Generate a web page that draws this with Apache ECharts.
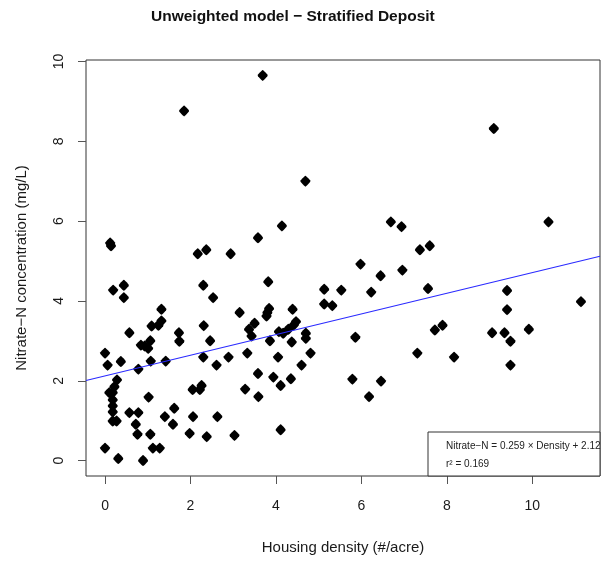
<!DOCTYPE html>
<html>
<head>
<meta charset="utf-8">
<script src="https://cdn.jsdelivr.net/npm/echarts@6/dist/echarts.min.js"></script>
<style>
  html, body { margin: 0; padding: 0; background: #fff; }
  #chart { width: 607px; height: 563px; }
</style>
</head>
<body>
<div id="chart"></div>
<script>
// housing density (#/acre) vs nitrate-N (mg/L)
var density = [
  0.14, 0.12, 1.85, 3.69, 4.69, 4.14, 3.58, 2.17, 2.37, 2.94,
  9.10, 6.69, 6.94, 7.37, 7.60, 10.38,
  5.98, 6.96, 6.45, 5.53, 6.23, 7.56, 9.41, 9.41, 11.14, 5.86,
  7.72, 7.90, 9.06, 9.35, 9.49, 9.92, 7.31, 8.17, 9.49, 5.79,
  6.46, 6.18,
  0.19, 0.44, 0.44, 3.82, 5.13, 5.13, 5.32, 2.30, 2.53, 1.32,
  0.57, 1.32, 1.25, 1.09, 2.31, 1.73, 1.74, 2.46, 0.84, 0.93,
  1.06, 1.01, 3.15, 3.78, 3.84, 3.80, 4.39, 3.50, 3.37, 3.43,
  4.47, 4.42, 4.29, 4.07, 4.17, 4.70, 4.70, 3.86, 4.37, 4.81,
  0.00, 0.06, 0.37, 1.07, 1.42, 0.78, 2.30, 2.89, 3.33, 4.05,
  2.61, 4.60, 3.58, 3.94, 4.35, 4.11, 0.28, 0.22, 0.10, 0.18,
  0.18, 0.18, 0.18, 0.18, 0.27, 2.05, 2.26, 2.22, 3.28, 3.59,
  1.02, 0.57, 0.78, 1.62, 1.40, 1.59, 0.72, 0.76, 2.06, 2.63,
  1.98, 2.38, 3.03, 1.06, 1.12, 1.28, 0.00, 0.31, 0.89, 4.11
];
var nitrate = [
  5.38, 5.45, 8.76, 9.65, 7.00, 5.88, 5.58, 5.18, 5.28, 5.18,
  8.32, 5.98, 5.86, 5.28, 5.38, 5.98,
  4.92, 4.77, 4.63, 4.27, 4.22, 4.31, 4.26, 3.78, 3.98, 3.09,
  3.27, 3.39, 3.20, 3.20, 2.99, 3.29, 2.69, 2.59, 2.39, 2.04,
  1.99, 1.60,
  4.27, 4.39, 4.08, 4.48, 4.29, 3.92, 3.88, 4.39, 4.08, 3.79,
  3.20, 3.50, 3.39, 3.37, 3.38, 3.20, 2.99, 3.00, 2.89, 2.87,
  3.00, 2.81, 3.71, 3.62, 3.81, 3.71, 3.79, 3.44, 3.29, 3.12,
  3.48, 3.40, 3.29, 3.23, 3.19, 3.19, 3.06, 3.00, 2.97, 2.69,
  2.69, 2.39, 2.48, 2.49, 2.49, 2.29, 2.59, 2.59, 2.69, 2.59,
  2.39, 2.39, 2.18, 2.09, 2.05, 1.88, 2.02, 1.85, 1.70, 1.70,
  1.52, 1.37, 1.22, 0.99, 0.99, 1.78, 1.88, 1.78, 1.79, 1.60,
  1.59, 1.20, 1.20, 1.31, 1.10, 0.91, 0.91, 0.66, 1.10, 1.10,
  0.68, 0.60, 0.63, 0.66, 0.31, 0.31, 0.31, 0.05, 0.00, 0.77
];
var xTicks = [0, 2, 4, 6, 8, 10];
var yTicks = [0, 2, 4, 6, 8, 10];
// fitted model
var fitSlope = 0.259;
var fitIntercept = 2.12;
var rSquared = 0.169;

var chartDom = document.getElementById("chart");
var myChart = echarts.init(chartDom);

// axis ranges padded by 4% like R does
function padRange(arr) {
  var lo = Math.min.apply(null, arr);
  var hi = Math.max.apply(null, arr);
  var d = (hi - lo) * 0.04;
  return [lo - d, hi + d];
}
var xr = padRange(density);
var yr = padRange(nitrate);

var points = density.map(function (d, i) {
  return [d, nitrate[i]];
});
var fitLine = [
  [xr[0], fitSlope * xr[0] + fitIntercept],
  [xr[1], fitSlope * xr[1] + fitIntercept]
];

var textColor = "#1a1a1a";
var font = "'Liberation Sans', Arial, sans-serif";
// softened diamond, like R's pch 18
var dot = "path://M5,0 Q5.6,0 9.4,4.2 Q10,5 9.4,5.8 Q5.6,10 5,10 Q4.4,10 0.6,5.8 Q0,5 0.6,4.2 Q4.4,0 5,0 Z";

var option = {
  animation: false,
  backgroundColor: "#fff",
  grid: {
    left: 86,
    top: 60,
    right: 7,
    bottom: 87,
    show: true,
    borderColor: "#333",
    borderWidth: 1
  },
  xAxis: {
    type: "value",
    min: xr[0],
    max: xr[1],
    name: "Housing density (#/acre)",
    nameLocation: "middle",
    nameGap: 64,
    nameTextStyle: { fontSize: 15, color: textColor, fontFamily: font },
    axisLine: { show: false, onZero: false },
    splitLine: { show: false },
    axisTick: {
      show: true,
      length: 8,
      customValues: xTicks,
      lineStyle: { color: "#555" }
    },
    axisLabel: {
      customValues: xTicks,
      margin: 23,
      fontSize: 14,
      color: textColor,
      fontFamily: font
    }
  },
  yAxis: {
    type: "value",
    min: yr[0],
    max: yr[1],
    name: "Nitrate\u2212N concentration (mg/L)",
    nameLocation: "middle",
    nameRotate: 90,
    nameGap: 57,
    nameTextStyle: { fontSize: 15, color: textColor, fontFamily: font },
    axisLine: { show: false, onZero: false },
    splitLine: { show: false },
    axisTick: {
      show: true,
      length: 8,
      customValues: yTicks,
      lineStyle: { color: "#555" }
    },
    axisLabel: {
      customValues: yTicks,
      rotate: 90,
      margin: 20,
      fontSize: 14,
      color: textColor,
      fontFamily: font
    }
  },
  graphic: [
    {
      type: "text",
      left: 151,
      top: 9,
      style: {
        text: "Unweighted model \u2212 Stratified Deposit",
        font: "bold 15.5px " + font,
        fill: "#111"
      }
    },
    {
      type: "rect",
      shape: { x: 428, y: 432, width: 172, height: 44 },
      style: { fill: "#fff", stroke: "#333", lineWidth: 1 },
      z: 10
    },
    {
      type: "text",
      x: 446,
      y: 446,
      z: 11,
      style: {
        text: "Nitrate\u2212N = " + fitSlope + " \u00d7 Density + " + fitIntercept,
        font: "10px " + font,
        fill: "#222",
        verticalAlign: "middle"
      }
    },
    {
      type: "text",
      x: 446,
      y: 464,
      z: 11,
      style: {
        text: "r\u00b2 = " + rSquared,
        font: "10px " + font,
        fill: "#222",
        verticalAlign: "middle"
      }
    }
  ],
  series: [
    {
      type: "scatter",
      symbol: dot,
      symbolSize: [10, 11],
      itemStyle: { color: "#000", opacity: 1 },
      data: points
    },
    {
      type: "line",
      data: fitLine,
      symbol: "none",
      z: 5,
      lineStyle: { color: "#2a2aff", width: 1.1 }
    }
  ]
};
myChart.setOption(option);
window.addEventListener("resize", function () {
  myChart.resize();
});
</script>
</body>
</html>
